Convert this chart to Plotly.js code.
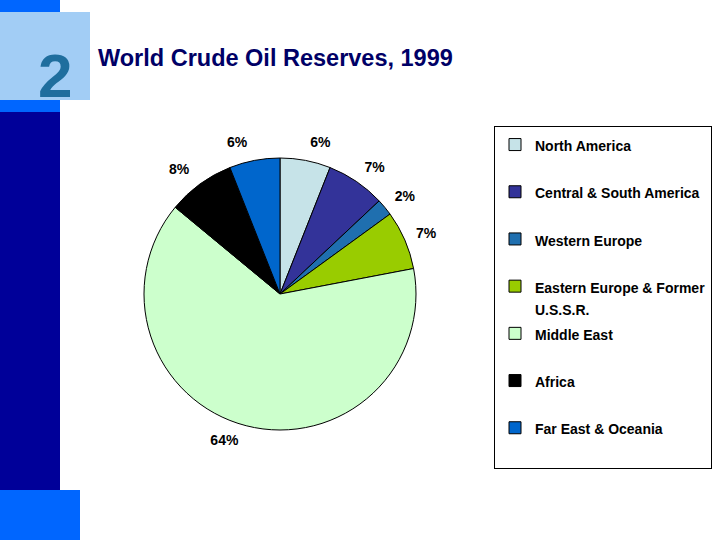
<!DOCTYPE html>
<html><head><meta charset="utf-8">
<script src="https://cdn.plot.ly/plotly-3.0.1.min.js"></script>
<style>html,body{margin:0;padding:0;background:#fff}</style>
</head><body><div id="chart" style="width:720px;height:540px"></div>
<script>
// ---- data ----
const regions = ["North America", "Central & South America", "Western Europe",
  "Eastern Europe & Former<br>U.S.S.R.", "Middle East", "Africa", "Far East & Oceania"];
const shares = [6, 7, 2, 7, 64, 8, 6];
const sliceColors = ["#c6e3e8", "#333399", "#1f6faf", "#99cc00", "#ccffcc", "#000000", "#0066cc"];
const chartTitle = "World Crude Oil Reserves, 1999";
const slideNumber = "2";

// ---- helpers (pixel -> paper) ----
const W = 720, H = 540;
const px = v => v / W;
const py = v => 1 - v / H;

const ARIAL = "'Liberation Sans', Arial, sans-serif";

// legend labels: smaller text inside a 17px-line-height legend, single-line entries padded to two lines
const legendLabels = regions.map(r => {
  const parts = r.split("<br>");
  const txt = parts.map(p => '<span style="font-size:14px">' + p + '</span>');
  if (txt.length === 1) txt.push("\u00a0");
  return txt.join("<br>");
});

// pie geometry (pixels)
const CX = 280, CY = 294, R = 136;
const LCX = 279, LCY = 292, RLAB = 145;
const dom = (cx, cy, r) => ({ x: [px(cx - r), px(cx + r)], y: [py(cy + r), py(cy - r)] });

const pie = {
  type: "pie",
  labels: legendLabels,
  values: shares,
  sort: false,
  direction: "clockwise",
  rotation: 0,
  marker: { colors: sliceColors, line: { color: "#000000", width: 1 } },
  textinfo: "none",
  hoverinfo: "percent",
  domain: dom(CX, CY, R),
  automargin: false
};

// transparent companion pie carrying the percentage labels a bit further from the rim
const labelPie = {
  type: "pie",
  labels: legendLabels,
  values: shares,
  sort: false,
  direction: "clockwise",
  rotation: 0,
  showlegend: false,
  marker: { colors: shares.map(() => "rgba(0,0,0,0)"), line: { width: 0 } },
  textinfo: "percent",
  textposition: "outside",
  outsidetextfont: { family: ARIAL, size: 14, color: "#000000", weight: "bold" },
  hoverinfo: "skip",
  domain: dom(LCX, LCY, RLAB),
  automargin: false
};

const layout = {
  width: W, height: H,
  margin: { l: 0, r: 0, t: 0, b: 0 },
  paper_bgcolor: "#ffffff",
  showlegend: true,
  legend: {
    x: px(494), y: py(126), xanchor: "left", yanchor: "top",
    bordercolor: "#000000", borderwidth: 1, bgcolor: "#ffffff",
    font: { family: ARIAL, size: 17, color: "#000000", weight: "bold" },
    valign: "top", traceorder: "normal"
  },
  shapes: [
    { type: "rect", xref: "paper", yref: "paper", layer: "below", line: { width: 0 },
      x0: px(0), x1: px(60), y0: py(0), y1: py(112), fillcolor: "#0066ff" },
    { type: "rect", xref: "paper", yref: "paper", layer: "below", line: { width: 0 },
      x0: px(0), x1: px(60), y0: py(112), y1: py(490), fillcolor: "#000099" },
    { type: "rect", xref: "paper", yref: "paper", layer: "below", line: { width: 0 },
      x0: px(0), x1: px(80), y0: py(490), y1: py(540), fillcolor: "#0066ff" },
    { type: "rect", xref: "paper", yref: "paper", layer: "below", line: { width: 0 },
      x0: px(0), x1: px(90), y0: py(12), y1: py(100), fillcolor: "#a2cdf5" }
  ],
  annotations: [
    { text: chartTitle, xref: "paper", yref: "paper", x: px(96), y: py(58),
      xanchor: "left", yanchor: "middle", showarrow: false,
      font: { family: ARIAL, size: 23.5, color: "#000066", weight: "bold" } },
    { text: slideNumber, xref: "paper", yref: "paper", x: px(55), y: py(76),
      xanchor: "center", yanchor: "middle", showarrow: false,
      font: { family: ARIAL, size: 62, color: "#1f6e9e", weight: "bold" } }
  ]
};

Plotly.newPlot("chart", [pie, labelPie], layout, { displayModeBar: false, staticPlot: true });
</script>
</body></html>
